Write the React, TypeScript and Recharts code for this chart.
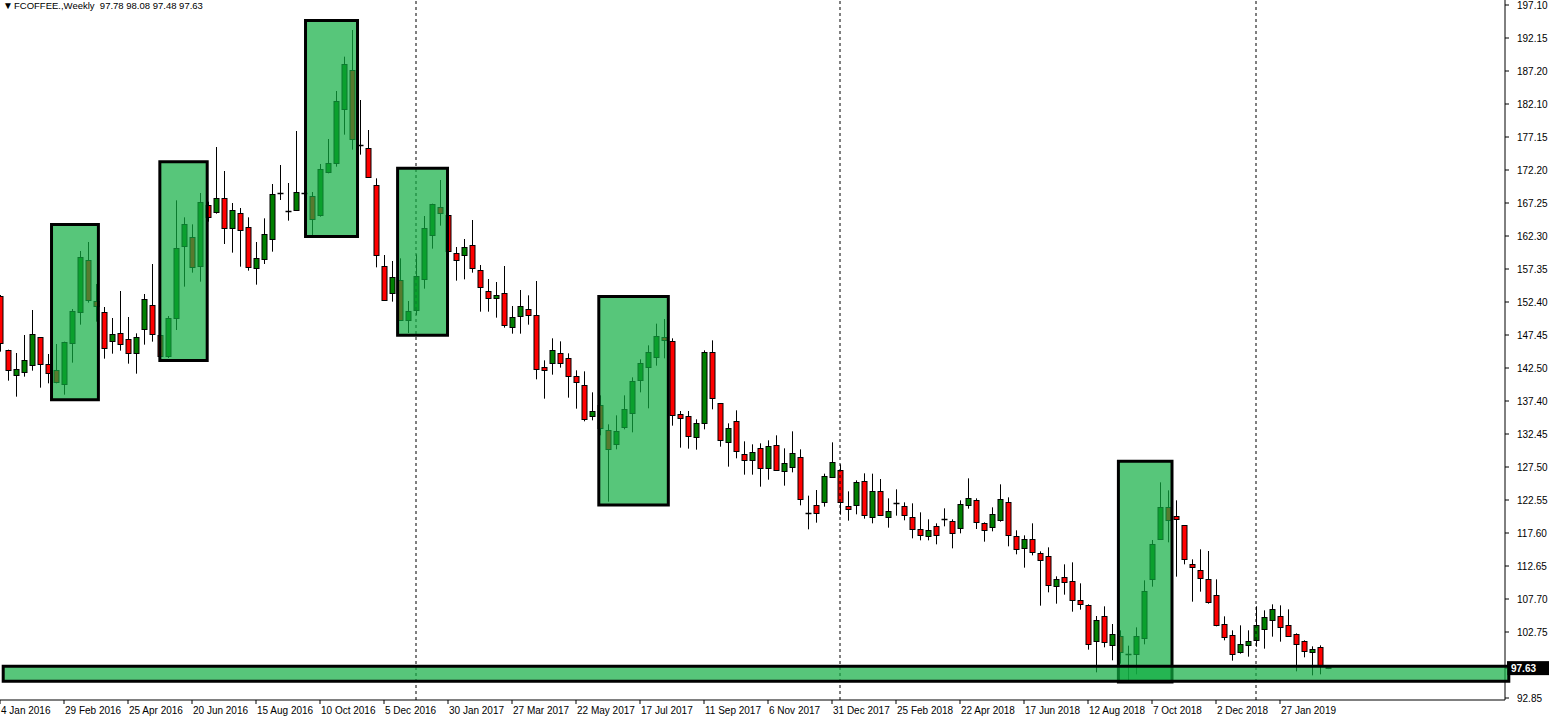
import { ComposedChart, Bar, XAxis, YAxis, ReferenceArea, ReferenceLine } from "recharts";

// weekly candles, 4 Jan 2016 .. Feb 2019
const OPEN = [
  153.45, 145.3, 141.55, 142.0, 143.05, 147.25, 143.2, 142.3, 140.2, 146.35,
  151.0, 158.8, 152.65, 151.0, 146.6, 147.85, 146.95, 144.85, 148.45, 152.05,
  147.55, 144.45, 150.15, 160.85, 162.25, 157.85, 167.05, 166.0, 168.1, 163.55,
  165.85, 163.75, 157.6, 158.95, 161.95, 168.85, 166.25, 166.3, 168.85, 168.4,
  165.5, 172.1, 173.3, 181.45, 187.3, 176.15, 175.6, 170.05, 157.9, 153.85,
  155.8, 149.8, 151.3, 155.95, 162.5, 166.75, 165.55, 159.85, 159.55, 161.05,
  157.3, 154.15, 153.1, 153.85, 148.75, 150.4, 151.45, 150.55, 142.75, 143.35,
  144.85, 144.1, 141.4, 140.05, 135.4, 137.05, 133.3, 131.2, 133.75, 135.85,
  140.8, 142.75, 144.35, 147.3, 146.65, 135.7, 135.4, 132.25, 134.35, 145.0,
  137.35, 131.5, 134.65, 129.7, 128.8, 130.6, 127.6, 131.05, 127.15, 127.75,
  129.25, 120.9, 122.05, 122.5, 126.25, 127.3, 121.9, 122.05, 125.65, 120.25,
  124.15, 120.25, 122.35, 121.9, 120.25, 118.45, 117.4, 118.9, 119.95, 119.65,
  118.6, 122.05, 122.8, 119.35, 118.75, 119.75, 122.5, 117.4, 115.6, 116.95,
  114.85, 114.4, 109.9, 111.25, 110.65, 107.8, 107.05, 101.65, 105.4, 101.05,
  102.4, 99.8, 99.65, 102.05, 110.95, 116.95, 121.75, 120.4, 119.05, 113.2,
  112.3, 110.95, 108.55, 104.2, 102.55, 99.95, 101.05, 101.8, 103.45, 104.8,
  105.4, 104.05, 102.7, 101.65, 100.0, 100.75, 97.78,
];
const HIGH = [
  153.6, 145.4, 144.9, 147.6, 151.35, 147.3, 144.75, 146.25, 146.6, 151.5,
  160.2, 161.55, 155.25, 151.8, 150.15, 154.2, 150.3, 147.85, 153.75, 158.25,
  148.2, 150.45, 167.8, 165.25, 164.2, 168.9, 167.6, 175.8, 172.2, 167.4,
  166.65, 165.25, 161.55, 165.1, 170.25, 173.1, 170.4, 178.2, 169.2, 169.05,
  173.25, 177.0, 184.2, 189.35, 193.35, 182.85, 178.35, 171.1, 159.6, 158.7,
  159.1, 152.7, 159.7, 165.45, 167.3, 170.85, 166.0, 160.8, 162.0, 164.85,
  158.1, 156.0, 155.55, 157.95, 151.95, 154.35, 153.55, 155.7, 143.8, 147.1,
  146.65, 144.85, 142.3, 142.15, 139.0, 138.55, 134.2, 135.55, 138.55, 141.25,
  143.95, 146.05, 149.3, 150.0, 147.1, 136.2, 136.2, 134.95, 145.3, 146.8,
  137.4, 134.35, 136.3, 131.65, 131.2, 131.35, 131.8, 132.55, 130.6, 133.15,
  130.45, 123.5, 124.35, 126.8, 131.5, 128.2, 124.15, 125.8, 126.85, 126.8,
  126.0, 123.1, 124.45, 122.5, 122.35, 121.0, 119.95, 119.35, 121.6, 119.95,
  122.8, 126.1, 123.1, 119.5, 121.75, 125.2, 123.25, 118.3, 117.55, 119.35,
  115.15, 115.75, 111.4, 113.2, 113.5, 110.35, 107.2, 105.45, 106.9, 104.25,
  103.3, 101.0, 103.75, 110.8, 116.85, 125.5, 124.3, 122.8, 119.1, 113.95,
  115.45, 115.2, 110.95, 105.4, 103.3, 104.05, 103.3, 106.9, 106.3, 107.2,
  107.05, 106.45, 102.85, 101.8, 100.9, 101.05, 98.08,
];
const LOW = [
  145.1, 140.75, 138.35, 141.35, 142.25, 139.7, 140.35, 140.35, 138.65, 143.45,
  149.15, 152.45, 149.6, 144.05, 144.8, 145.25, 143.3, 141.8, 146.15, 146.6,
  143.9, 144.15, 148.35, 154.85, 156.95, 155.6, 164.6, 165.8, 161.25, 159.95,
  157.85, 157.25, 155.15, 158.25, 160.1, 167.85, 164.75, 166.2, 168.5, 162.6,
  165.35, 171.85, 172.85, 177.65, 175.4, 174.65, 171.2, 157.75, 152.75, 152.6,
  149.7, 147.9, 150.6, 154.55, 160.55, 164.0, 159.8, 155.75, 155.95, 156.95,
  151.1, 151.1, 150.2, 148.7, 147.8, 147.8, 149.15, 140.95, 138.05, 141.65,
  142.7, 138.2, 136.55, 134.65, 134.8, 132.55, 122.6, 130.45, 133.45, 133.0,
  139.0, 136.6, 143.0, 144.1, 134.0, 130.7, 130.55, 130.4, 133.45, 136.45,
  130.85, 127.85, 129.1, 126.65, 126.65, 124.85, 125.9, 127.2, 125.0, 127.0,
  122.05, 118.45, 119.45, 121.85, 126.2, 120.65, 119.75, 120.7, 120.05, 119.35,
  120.5, 118.7, 120.5, 119.8, 117.1, 116.8, 116.8, 116.2, 118.9, 115.6,
  117.85, 121.55, 118.5, 116.6, 118.15, 119.6, 115.9, 114.7, 112.7, 114.55,
  107.0, 109.0, 107.3, 108.65, 106.1, 106.4, 100.4, 97.0, 100.75, 98.8,
  98.3, 95.4, 96.7, 101.2, 109.85, 116.9, 116.5, 111.35, 113.2, 107.6,
  109.1, 107.3, 103.9, 101.8, 98.75, 99.8, 99.35, 100.85, 100.55, 102.35,
  101.6, 102.35, 97.15, 99.25, 96.55, 96.7, 97.48,
];
const CLOSE = [
  146.35, 142.3, 142.45, 143.8, 147.7, 143.2, 141.85, 140.5, 146.5, 151.15,
  159.25, 152.8, 151.85, 145.6, 147.7, 146.2, 144.85, 147.25, 152.95, 147.7,
  144.35, 150.1, 160.6, 164.2, 157.75, 167.5, 165.25, 168.1, 163.55, 166.3,
  163.3, 157.7, 159.1, 162.7, 168.7, 168.85, 166.25, 169.0, 168.85, 164.9,
  172.45, 173.4, 182.65, 188.2, 176.95, 176.15, 171.25, 159.55, 152.8, 156.25,
  149.8, 151.15, 156.4, 163.6, 167.2, 165.85, 160.15, 158.8, 160.75, 157.6,
  154.75, 153.1, 153.55, 149.0, 150.25, 151.9, 150.55, 142.45, 142.3, 145.3,
  143.35, 141.4, 140.5, 134.95, 136.15, 133.6, 130.45, 133.15, 136.45, 140.65,
  143.35, 145.0, 147.45, 146.9, 135.55, 135.1, 132.4, 134.35, 145.0, 138.1,
  131.8, 133.6, 130.15, 128.8, 130.0, 127.6, 130.9, 127.3, 128.35, 129.85,
  122.95, 120.9, 120.85, 126.4, 128.5, 122.5, 121.45, 125.5, 120.55, 124.15,
  120.55, 121.15, 122.35, 120.55, 118.45, 117.55, 118.3, 117.55, 119.95, 117.85,
  122.2, 123.1, 119.5, 118.3, 120.7, 122.95, 117.55, 115.45, 116.95, 115.0,
  113.8, 110.05, 110.95, 110.5, 107.8, 107.2, 101.2, 104.8, 101.5, 102.7,
  100.0, 99.8, 102.4, 109.15, 116.2, 121.75, 119.8, 119.95, 113.95, 112.75,
  111.1, 107.45, 104.05, 102.25, 99.7, 101.2, 101.65, 104.05, 105.25, 106.45,
  103.75, 102.4, 101.2, 100.15, 100.45, 97.95, 97.63,
];

const X_LABELS = [
  "4 Jan 2016", "29 Feb 2016", "25 Apr 2016", "20 Jun 2016", "15 Aug 2016", "10 Oct 2016",
  "5 Dec 2016", "30 Jan 2017", "27 Mar 2017", "22 May 2017", "17 Jul 2017", "11 Sep 2017",
  "6 Nov 2017", "31 Dec 2017", "25 Feb 2018", "22 Apr 2018", "17 Jun 2018", "12 Aug 2018",
  "7 Oct 2018", "2 Dec 2018", "27 Jan 2019",
];
const X_LABEL_EVERY = 8; // one label per 8 weeks

// price scale labels as printed by the terminal (slot 20 is covered by the last price)
const Y_LABELS = [
  "197.10", "192.15", "187.20", "182.10", "177.15", "172.20", "167.25", "162.30",
  "157.35", "152.40", "147.45", "142.50", "137.40", "132.45", "127.50", "122.55",
  "117.60", "112.65", "107.70", "102.75", "", "92.85",
];
const Y_TOP = 197.1;
const Y_STEP = 4.95;
const LAST_PRICE = 97.63;

const YEAR_SEPARATORS = [52, 105, 157];

// highlight boxes: bar index range and price range
const BOX_FROM = [6.44, 19.98, 38.19, 49.7, 74.85, 139.8, 0.4];
const BOX_TO = [12.3, 25.9, 44.69, 55.94, 83.54, 146.5, 188.6];
const BOX_TOP = [164.17, 173.6, 194.77, 172.6, 153.37, 128.65, 97.92];
const BOX_BOTTOM = [137.88, 143.78, 162.37, 147.57, 122.1, 95.55, 95.65];

const data = OPEN.map((o, i) => ({
  i,
  open: o,
  high: HIGH[i],
  low: LOW[i],
  close: CLOSE[i],
  range: [LOW[i], HIGH[i]],
}));

const X_DOMAIN = [0, 188.125];
const Y_DOMAIN = [92.85, 197.85];
const W = 1560;
const H = 722;

const yTicks = [
  ...Y_LABELS.map((l, k) => (l ? +(Y_TOP - k * Y_STEP).toFixed(2) : null)).filter((v) => v !== null),
  LAST_PRICE,
] as number[];
const yLabelFor = (v: number) => Y_LABELS[Math.round((Y_TOP - v) / Y_STEP)];

const FONT = "'Liberation Sans', Arial, sans-serif";

const Candle = (props: any) => {
  const { x, y, width, height, payload } = props;
  if (!payload) return null;
  const { open, high, low, close } = payload;
  const top = Math.min(y, y + height);
  const k = high > low ? Math.abs(height) / (high - low) : 0;
  const cx = Math.round(x + width / 2) + 0.5;
  const yO = top + (high - open) * k;
  const yC = top + (high - close) * k;
  const yL = top + Math.abs(height);
  const bodyTop = Math.round(Math.min(yO, yC)) + 0.5;
  const bodyH = Math.max(0, Math.round(Math.abs(yO - yC)));
  return (
    <g>
      <line x1={cx} x2={cx} y1={top} y2={yL} stroke="#000" strokeWidth={1} />
      {open === close || bodyH < 1 ? (
        <line x1={cx - 3} x2={cx + 3} y1={bodyTop} y2={bodyTop} stroke="#000" strokeWidth={1.5} />
      ) : (
        <rect
          x={cx - 2.5}
          y={bodyTop}
          width={5}
          height={bodyH}
          fill={close > open ? "#008000" : "#ff0000"}
          stroke="#000"
          strokeWidth={1}
        />
      )}
    </g>
  );
};

const XTick = (props: any) => {
  const { x, y, payload } = props;
  const label = X_LABELS[Math.round(payload.value / X_LABEL_EVERY)];
  return (
    <text x={x + 1} y={y + 10} fontSize={10} fontFamily={FONT} fill="#000" textAnchor="start">
      {label}
    </text>
  );
};

const YTick = (props: any) => {
  const { x, y, payload } = props;
  if (payload.value === LAST_PRICE) {
    return (
      <g>
        <rect x={x - 10} y={y - 7} width={42} height={14} fill="#000" />
        <text x={x - 6} y={y + 4} fontSize={10} fontFamily={FONT} fill="#fff" fontWeight="bold">
          {LAST_PRICE.toFixed(2)}
        </text>
      </g>
    );
  }
  return (
    <text x={x} y={y + 3.5} fontSize={10} fontFamily={FONT} fill="#000" textAnchor="start">
      {yLabelFor(payload.value)}
    </text>
  );
};

const margin = { top: 0, right: 0, bottom: 0, left: 0 };

export default function App() {
  return (
    <div style={{ position: "absolute", left: 0, top: 0, width: W, height: H, background: "#fff" }}>
      <ComposedChart width={W} height={H} data={data} margin={margin}>
        <XAxis
          dataKey="i"
          type="number"
          domain={X_DOMAIN}
          allowDataOverflow
          ticks={X_LABELS.map((_, k) => k * X_LABEL_EVERY)}
          interval={0}
          tick={<XTick />}
          height={22}
          tickSize={4}
          tickMargin={0}
          axisLine={{ stroke: "#000" }}
          tickLine={{ stroke: "#000" }}
        />
        <YAxis
          orientation="right"
          domain={Y_DOMAIN}
          allowDataOverflow
          ticks={yTicks}
          interval={0}
          tick={<YTick />}
          width={55}
          tickSize={4}
          tickMargin={8}
          axisLine={{ stroke: "#000" }}
          tickLine={{ stroke: "#000" }}
        />
        {YEAR_SEPARATORS.map((s) => (
          <ReferenceLine key={s} x={s} stroke="#000" strokeDasharray="3 3" strokeWidth={1} />
        ))}
        <Bar dataKey="range" shape={<Candle />} barSize={6} isAnimationActive={false} />
      </ComposedChart>

      {/* highlight boxes sit on top of the candles, like the terminal's filled rectangles */}
      <div style={{ position: "absolute", left: 0, top: 0, pointerEvents: "none" }}>
        <ComposedChart width={W} height={H} data={data} margin={margin}>
          <XAxis dataKey="i" type="number" domain={X_DOMAIN} allowDataOverflow height={22} tick={false} axisLine={false} tickLine={false} />
          <YAxis orientation="right" domain={Y_DOMAIN} allowDataOverflow width={55} tick={false} axisLine={false} tickLine={false} />
          {BOX_FROM.map((f, k) => (
            <ReferenceArea
              key={k}
              x1={f}
              x2={BOX_TO[k]}
              y1={BOX_BOTTOM[k]}
              y2={BOX_TOP[k]}
              ifOverflow="visible"
              fill="#10ae41"
              fillOpacity={0.7}
              stroke="#000"
              strokeWidth={3}
              strokeOpacity={1}
            />
          ))}
        </ComposedChart>
      </div>

      <div
        style={{
          position: "absolute",
          left: 3,
          top: 0,
          fontFamily: FONT,
          fontSize: 9.5,
          lineHeight: "12px",
          color: "#000",
          whiteSpace: "pre",
        }}
      >
        <span style={{ fontSize: 10, display: "inline-block", width: 11 }}>▼</span>FCOFFEE.,Weekly  97.78 98.08 97.48 97.63
      </div>
    </div>
  );
}
